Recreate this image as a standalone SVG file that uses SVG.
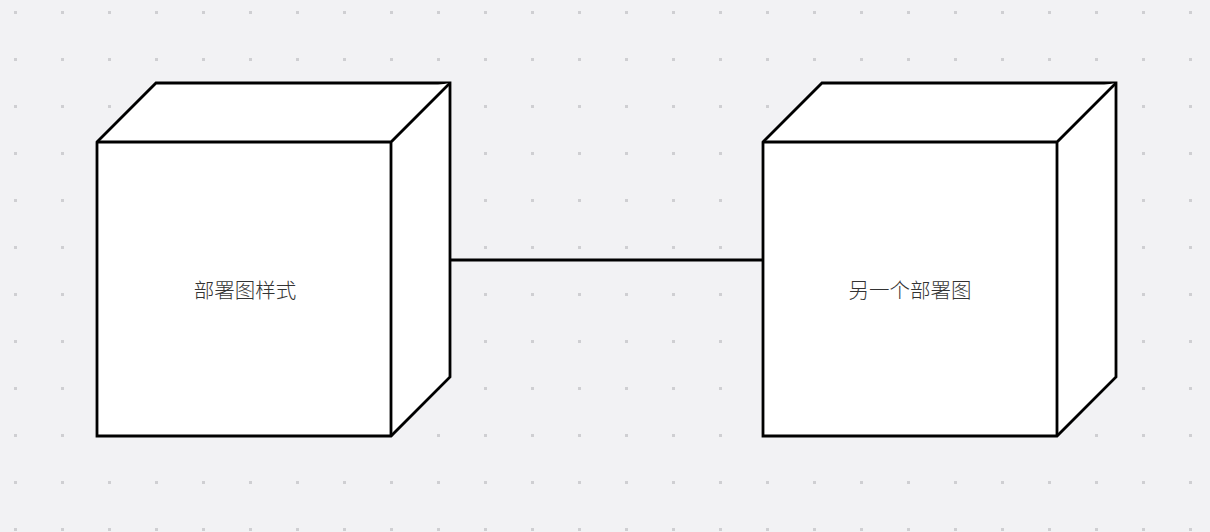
<svg xmlns="http://www.w3.org/2000/svg" width="1210" height="532" viewBox="0 0 1210 532">
  <defs>
    <pattern id="dots" x="0" y="0" width="47" height="47" patternUnits="userSpaceOnUse">
      <rect x="14" y="11" width="3" height="3" fill="#cfcfd2"/>
    </pattern>
    <style>
      .box { fill: #ffffff; stroke: #000000; stroke-width: 2.8; stroke-linejoin: miter; }
      .label { font-family: "Noto Sans CJK SC", "Noto Sans", sans-serif; font-size: 20.5px; font-weight: 300; fill: #333333; text-anchor: middle; dominant-baseline: central; }
      .edge { stroke: #000000; stroke-width: 2.8; fill: none; }
    </style>
  </defs>
  <rect width="1210" height="532" fill="#f2f2f4"/>
  <rect width="1210" height="532" fill="url(#dots)"/>
  <g id="connectors">
    <line class="edge" x1="450" y1="260" x2="763" y2="260"/>
  </g>
  <g id="node1">
    <path class="box" d="M97 142 L156 83 L450 83 L450 377 L391 436 L97 436 Z"/>
    <path class="box" d="M97 142 L391 142 L450 83 M391 142 L391 436" fill="none"/>
    <text class="label" x="245" y="289">部署图样式</text>
  </g>
  <g id="node2">
    <path class="box" d="M763 142 L822 83 L1116 83 L1116 377 L1057 436 L763 436 Z"/>
    <path class="box" d="M763 142 L1057 142 L1116 83 M1057 142 L1057 436" fill="none"/>
    <text class="label" x="910" y="289">另一个部署图</text>
  </g>
</svg>
